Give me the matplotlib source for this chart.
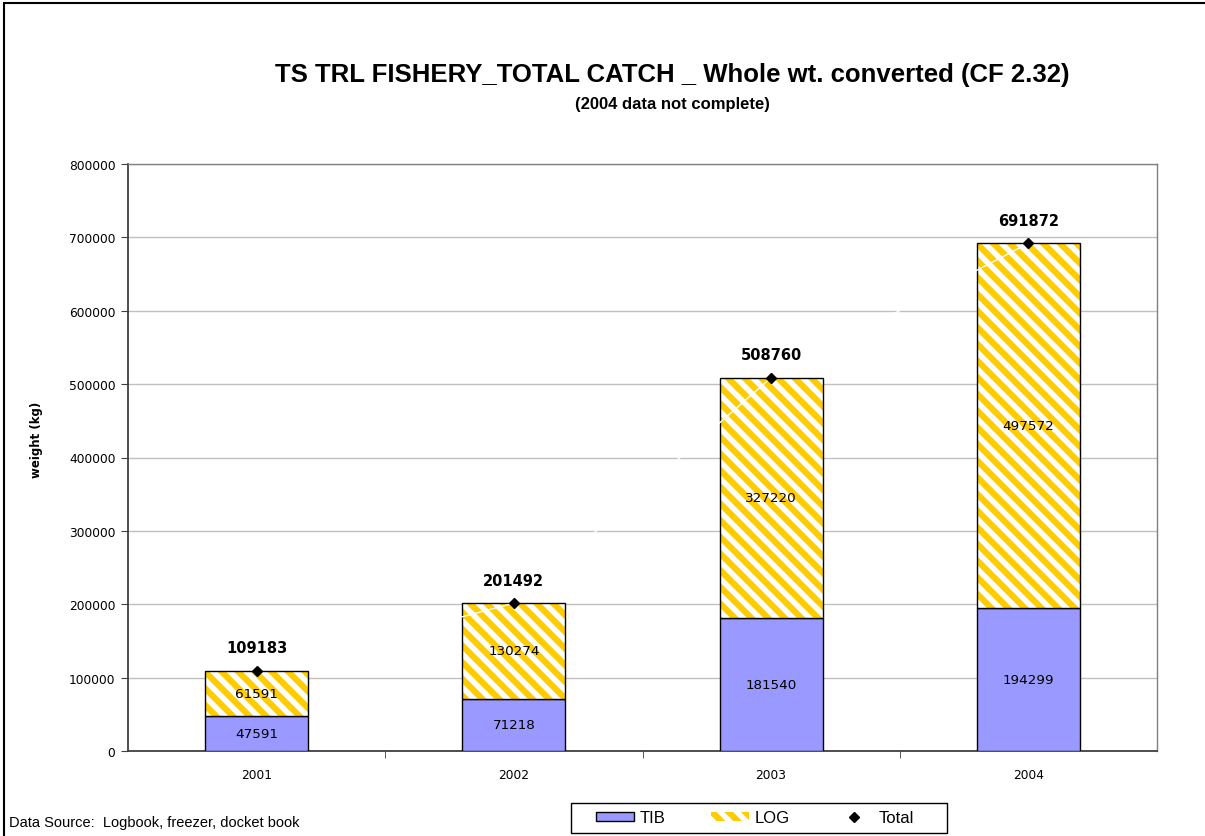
import matplotlib.pyplot as plt
import numpy as np
from matplotlib.patches import Patch, Rectangle
from matplotlib.lines import Line2D

plt.rcParams['font.family'] = ['Liberation Sans', 'DejaVu Sans']
plt.rcParams['hatch.linewidth'] = 4.5

years = ['2001', '2002', '2003', '2004']
tib = [47591, 71218, 181540, 194299]
log = [61591, 130274, 327220, 497572]
total = [109183, 201492, 508760, 691872]

W, H = 1205, 837
fig = plt.figure(figsize=(W / 100, H / 100), dpi=100)
ax = fig.add_axes([128 / W, 1 - 752 / H, (1157 - 128) / W, (752 - 165) / H])

x = np.arange(len(years))
w = 0.4
yellow = '#FFCC00'
blue = '#9999FF'
small = 'DejaVu Sans'

ax.bar(x, tib, w, color=blue, edgecolor='black', linewidth=1, zorder=3)
# hatched part, then outline on top
ax.bar(x, log, w, bottom=tib, color='white', edgecolor=yellow, hatch='\\\\',
       linewidth=0, zorder=3)
ax.bar(x, log, w, bottom=tib, color='none', edgecolor='black', linewidth=1, zorder=4)
ax.plot(x, total, color='white', lw=1, zorder=5)
ax.plot(x, total, linestyle='none', marker='D', color='black', ms=5, zorder=6)

for i in range(len(years)):
    ax.text(x[i], tib[i] / 2, str(tib[i]), ha='center', va='center',
            fontsize=9.7, family=small, zorder=7)
    ax.text(x[i], tib[i] + log[i] / 2, str(log[i]), ha='center', va='center',
            fontsize=9.7, family=small, zorder=7)
    ax.text(x[i], total[i] + 21000, str(total[i]), ha='center', va='bottom',
            fontsize=10.5, family=small, fontweight='bold', zorder=7)

ax.set_xlim(-0.5, 3.5)
ax.set_ylim(0, 800000)
ax.set_yticks(np.arange(0, 800001, 100000))
ax.set_yticklabels([str(v) for v in range(0, 800001, 100000)], fontsize=8.8, family=small)
ax.set_xticks(x)
ax.set_xticklabels(years, fontsize=8.8, family=small)
ax.tick_params(axis='x', length=0, pad=12)
ax.set_xticks([0.5, 1.5, 2.5], minor=True)
ax.tick_params(axis='x', which='minor', length=5, direction='out', color='#404040')
ax.tick_params(axis='y', length=5, direction='out', color='#404040', pad=4)
ax.grid(axis='y', color='#C0C0C0', linewidth=1, zorder=0)
ax.set_axisbelow(True)
for s in ['top', 'right']:
    ax.spines[s].set_color('#808080')
    ax.spines[s].set_linewidth(1)
for s in ['left', 'bottom']:
    ax.spines[s].set_color('#404040')
    ax.spines[s].set_linewidth(1.3)

ax.set_ylabel('weight (kg)', fontsize=8.5, family=small, fontweight='bold')
ax.yaxis.set_label_coords((43 - 128) / 1029, (752 - 440) / 587)

fig.text(672 / W, 1 - 75 / H, 'TS TRL FISHERY_TOTAL CATCH _ Whole wt. converted (CF 2.32)',
         ha='center', va='center', fontsize=18.5, fontweight='bold')
fig.text(672 / W, 1 - 104 / H, '(2004 data not complete)',
         ha='center', va='center', fontsize=12, fontweight='bold')
fig.text(9 / W, 1 - 823 / H, 'Data Source:  Logbook, freezer, docket book',
         ha='left', va='center', fontsize=10.5)

handles = [Patch(facecolor=blue, edgecolor='black', linewidth=1),
           Patch(facecolor='white', edgecolor=yellow, hatch='\\\\', linewidth=0),
           Line2D([], [], linestyle='none', marker='D', color='black', ms=5)]
leg = fig.legend(handles, ['TIB', 'LOG', 'Total'], ncol=3, loc='center',
                 bbox_to_anchor=(755 / W, 1 - 819 / H), fontsize=12,
                 frameon=False, columnspacing=2.7, handlelength=2.3,
                 handleheight=0.5, handletextpad=0.35, borderpad=0.3)
# legend box
fig.patches.append(Rectangle((571 / W, 1 - 834 / H), (947 - 571) / W, 30 / H,
                             transform=fig.transFigure, fill=False,
                             edgecolor='black', linewidth=1))

# figure border
fig.patches.append(Rectangle((4 / W, -0.01), 1.02, 1 - 4 / H + 0.01, transform=fig.transFigure,
                             fill=False, edgecolor='black', linewidth=1.5))

fig.savefig('out.png', dpi=100)
